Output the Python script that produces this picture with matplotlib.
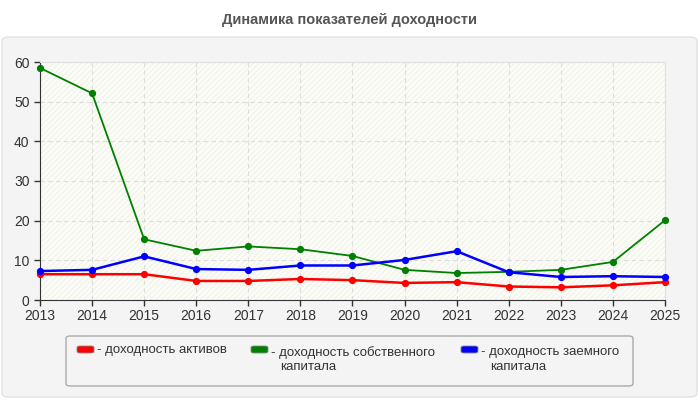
import matplotlib.pyplot as plt
from matplotlib.patches import FancyBboxPatch, Rectangle

years = list(range(2013, 2026))
roa = [6.5, 6.5, 6.5, 4.8, 4.8, 5.3, 5.0, 4.3, 4.5, 3.4, 3.2, 3.7, 4.5]
roe = [58.5, 52.1, 15.3, 12.4, 13.5, 12.8, 11.1, 7.6, 6.8, 7.1, 7.6, 9.6, 20.1]
rod = [7.3, 7.6, 11.0, 7.8, 7.6, 8.7, 8.7, 10.1, 12.3, 7.0, 5.8, 6.0, 5.8]

labels = [['доходность активов'], ['доходность собственного', 'капитала'], ['доходность заемного', 'капитала']]
colors = ['#ff0000', '#008000', '#0000ff']
widths = [1.8, 1.3, 1.8]
title = 'Динамика показателей доходности'

plt.rcParams['font.family'] = ['Liberation Sans', 'DejaVu Sans']

W, H = 700, 400
fig = plt.figure(figsize=(7, 4), dpi=100)
fig.patch.set_facecolor('white')

def px(x, y):
    # pixel coords (top-left origin) -> figure fraction
    return x / W, 1 - y / H

# grey panel
x0, y0 = px(2, 397)
panel = FancyBboxPatch((x0, y0), 695 / W, 360 / H, boxstyle='round,pad=0,rounding_size=0.01',
                       transform=fig.transFigure, facecolor='#f4f4f4', edgecolor='#e2e2e2',
                       lw=1, zorder=-10)
fig.patches.append(panel)

fig.text(0.5, 1 - 20 / H, title, ha='center', va='center', fontsize=10.5,
         fontweight='bold', color='#555555')

ax = fig.add_axes([40 / W, 1 - 300 / H, 625 / W, 238 / H])
ax.set_facecolor('#fdfdf8')
ax.add_patch(Rectangle((0, 0), 1, 1, transform=ax.transAxes, facecolor='none',
                       edgecolor='#f3f3ed', hatch='//////', lw=0, zorder=0))

for vals, c, w in zip([roa, roe, rod], colors, widths):
    ax.plot(years, vals, color=c, lw=w, marker='o', markersize=4.2, clip_on=False, zorder=3)

ax.set_xlim(2013, 2025)
ax.set_ylim(0, 60)
ax.set_xticks(years)
ax.set_yticks(range(0, 61, 10))
ax.grid(True, linestyle=(0, (4, 3)), color='#dddddd', lw=0.8)
ax.set_axisbelow(True)
for s in ['top', 'right']:
    ax.spines[s].set_color('#e0e0e0')
for s in ['left', 'bottom']:
    ax.spines[s].set_color('#333333')
ax.tick_params(labelsize=10, colors='#333333', length=4, width=1)
ax.tick_params(axis='x', pad=2.5)
ax.tick_params(axis='y', pad=3.5)

# legend box
lx, ly = px(66, 386)
fig.patches.append(FancyBboxPatch((lx, ly), 567 / W, 50 / H, boxstyle='round,pad=0,rounding_size=0.006',
                                  transform=fig.transFigure, facecolor='#f4f4f4',
                                  edgecolor='#aaaaaa', lw=1, zorder=-5))
for sx, lines, c in zip([77, 251, 461], labels, colors):
    bx, by = px(sx, 353)
    fig.patches.append(FancyBboxPatch((bx, by), 17 / W, 7 / H, boxstyle='round,pad=0,rounding_size=0.004',
                                      transform=fig.transFigure, facecolor=c,
                                      edgecolor='#888888', lw=0.6))
    top = 344 if len(lines) == 1 else 346
    tx, ty = px(sx + 20, top)
    fig.text(tx, ty, '- ' + lines[0], ha='left', va='top', fontsize=9.5, color='#333333')
    for i, extra in enumerate(lines[1:]):
        ex, ey = px(sx + 29, top + 15 * (i + 1))
        fig.text(ex, ey, extra, ha='left', va='top', fontsize=9.5, color='#333333')

fig.savefig('out.png', dpi=100, facecolor=fig.get_facecolor())
